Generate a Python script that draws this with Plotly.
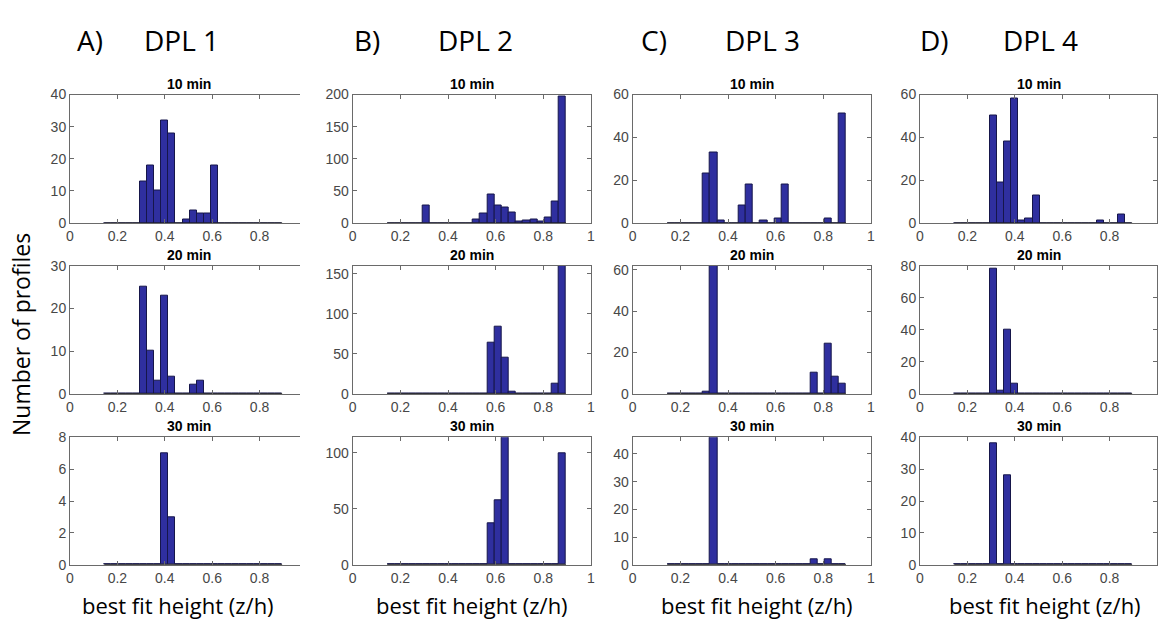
import plotly.graph_objects as go

W, H = 1158, 631

# bin centres (bin width 0.03)
centers = [0.16, 0.19, 0.22, 0.25, 0.28, 0.31, 0.34, 0.37, 0.40, 0.43, 0.46, 0.49, 0.52,
           0.55, 0.58, 0.61, 0.64, 0.67, 0.70, 0.73, 0.76, 0.79, 0.82, 0.85, 0.88]
bin_width = 0.03

dpl1_10 = [0, 0, 0, 0, 0, 13, 18, 10, 32, 28, 0, 1, 4, 3, 3, 18, 0, 0, 0, 0, 0, 0, 0, 0, 0]
dpl1_20 = [0, 0, 0, 0, 0, 25, 10, 3, 23, 4, 0, 0, 2, 3, 0, 0, 0, 0, 0, 0, 0, 0, 0, 0, 0]
dpl1_30 = [0, 0, 0, 0, 0, 0, 0, 0, 7, 3, 0, 0, 0, 0, 0, 0, 0, 0, 0, 0, 0, 0, 0, 0, 0]
dpl2_10 = [0, 0, 0, 0, 0, 28, 0, 0, 0, 0, 0, 0, 5, 15, 45, 28, 24, 17, 3, 4, 6, 2, 8, 33, 197]
dpl2_20 = [0, 0, 0, 0, 0, 0, 0, 0, 0, 0, 0, 0, 0, 0, 64, 84, 45, 3, 0, 0, 0, 0, 0, 12, 160]
dpl2_30 = [0, 0, 0, 0, 0, 0, 0, 0, 0, 0, 0, 0, 0, 0, 37, 58, 114, 0, 0, 0, 0, 0, 0, 0, 100]
dpl3_10 = [0, 0, 0, 0, 0, 23, 33, 1, 0, 0, 8, 18, 0, 1, 0, 2, 18, 0, 0, 0, 0, 0, 2, 0, 51]
dpl3_20 = [0, 0, 0, 0, 0, 1, 62, 0, 0, 0, 0, 0, 0, 0, 0, 0, 0, 0, 0, 0, 10, 0, 24, 8, 5]
dpl3_30 = [0, 0, 0, 0, 0, 0, 46, 0, 0, 0, 0, 0, 0, 0, 0, 0, 0, 0, 0, 0, 2, 0, 2, 0, 0]
dpl4_10 = [0, 0, 0, 0, 0, 50, 19, 38, 58, 1, 2, 13, 0, 0, 0, 0, 0, 0, 0, 0, 1, 0, 0, 4, 0]
dpl4_20 = [0, 0, 0, 0, 0, 78, 2, 40, 6, 0, 0, 0, 0, 0, 0, 0, 0, 0, 0, 0, 0, 0, 0, 0, 0]
dpl4_30 = [0, 0, 0, 0, 0, 38, 0, 28, 0, 0, 0, 0, 0, 0, 0, 0, 0, 0, 0, 0, 0, 0, 0, 0, 0]

panel_titles = ["10 min", "20 min", "30 min"]
column_labels = ["A)", "B)", "C)", "D)"]
column_names = ["DPL 1", "DPL 2", "DPL 3", "DPL 4"]
xlabel = "best fit height (z/h)"
ylabel = "Number of profiles"

data = [[dpl1_10, dpl1_20, dpl1_30],
        [dpl2_10, dpl2_20, dpl2_30],
        [dpl3_10, dpl3_20, dpl3_30],
        [dpl4_10, dpl4_20, dpl4_30]]

y_max = [[40, 30, 8], [200, 160, 114], [60, 62, 46], [60, 80, 40]]
y_ticks = [[[0, 10, 20, 30, 40], [0, 10, 20, 30], [0, 2, 4, 6, 8]],
           [[0, 50, 100, 150, 200], [0, 50, 100, 150], [0, 50, 100]],
           [[0, 20, 40, 60], [0, 20, 40, 60], [0, 10, 20, 30, 40]],
           [[0, 20, 40, 60], [0, 20, 40, 60, 80], [0, 10, 20, 30, 40]]]
x_tickvals = [0, 0.2, 0.4, 0.6, 0.8, 1.0]
x_ticktext = ["0", "0.2", "0.4", "0.6", "0.8", "1"]

# layout geometry (pixels)
col_px = [(70, 300), (352.7, 591), (632.7, 871), (920, 1157)]
col_xmax = [(300 - 70) / 237.0, 1.0, 1.0, 1.0]
row_px = [(94.5, 223), (265.7, 393.7), (437.3, 564.7)]

BAR = "#2f2f9f"
EDGE = "#16164a"
AX = "#6a6a6a"
TICKF = dict(family="Liberation Sans, Arial", size=14, color="#474747")
LABEL_FONT = "Open Sans, Lato"

fig = go.Figure()
layout = dict(width=W, height=H, margin=dict(l=0, r=0, t=0, b=0, autoexpand=False),
              plot_bgcolor="white", paper_bgcolor="white", showlegend=False,
              bargap=0)
annotations = []

edges_lo = centers[0] - bin_width / 2
edges_hi = centers[-1] + bin_width / 2


def ann(text, px, py, size, family, angle=0):
    return dict(text=text, x=px / W, y=1 - py / H, xref="paper", yref="paper",
                xanchor="center", yanchor="middle", showarrow=False, textangle=angle,
                font=dict(family=family, size=size, color="black"))


k = 0
for c in range(4):
    for r in range(3):
        k += 1
        xa = "x" if k == 1 else f"x{k}"
        ya = "y" if k == 1 else f"y{k}"
        xkey = "xaxis" if k == 1 else f"xaxis{k}"
        ykey = "yaxis" if k == 1 else f"yaxis{k}"
        x0, x1 = col_px[c]
        top, bot = row_px[r]
        # baseline of empty bins
        fig.add_trace(go.Scatter(x=[edges_lo, edges_hi], y=[0, 0], mode="lines",
                                 line=dict(color="#222222", width=1.2),
                                 xaxis=xa, yaxis=ya, hoverinfo="skip"))
        fig.add_trace(go.Bar(x=centers, y=data[c][r], width=bin_width,
                             marker=dict(color=BAR, line=dict(color=EDGE, width=1)),
                             xaxis=xa, yaxis=ya))
        layout[xkey] = dict(domain=[x0 / W, x1 / W], range=[0, col_xmax[c]],
                            anchor=ya, tickvals=x_tickvals, ticktext=x_ticktext,
                            ticks="inside", ticklen=4, tickcolor=AX,
                            showline=True, linecolor=AX, linewidth=1,
                            mirror="ticks", showgrid=False, zeroline=False,
                            tickfont=TICKF, fixedrange=True)
        layout[ykey] = dict(domain=[1 - bot / H, 1 - top / H], range=[0, y_max[c][r]],
                            anchor=xa, tickvals=y_ticks[c][r],
                            ticks="inside", ticklen=4, tickcolor=AX,
                            showline=True, linecolor=AX, linewidth=1,
                            mirror=("ticks" if c > 0 else False),
                            showgrid=False, zeroline=False,
                            tickfont=TICKF, fixedrange=True)
        cx = (70 + 237 * 0.5) if c == 0 else (x0 + x1) / 2
        annotations.append(ann("<b>" + panel_titles[r] + "</b>", cx, top - 11, 14,
                               "Liberation Sans, Arial"))

head_x = [(90, 181), (367, 475), (654, 762), (935, 1040)]
for c in range(4):
    annotations.append(ann(column_labels[c], head_x[c][0], 40, 28, LABEL_FONT))
    annotations.append(ann(column_names[c], head_x[c][1], 40, 28, LABEL_FONT))

xl_x = [178, 472, 757, 1045]
for c in range(4):
    annotations.append(ann(xlabel, xl_x[c], 605, 22, LABEL_FONT))

annotations.append(ann(ylabel, 21, 335, 23, LABEL_FONT, angle=-90))

layout["annotations"] = annotations
fig.update_layout(**layout)
fig.write_html("out.html")
